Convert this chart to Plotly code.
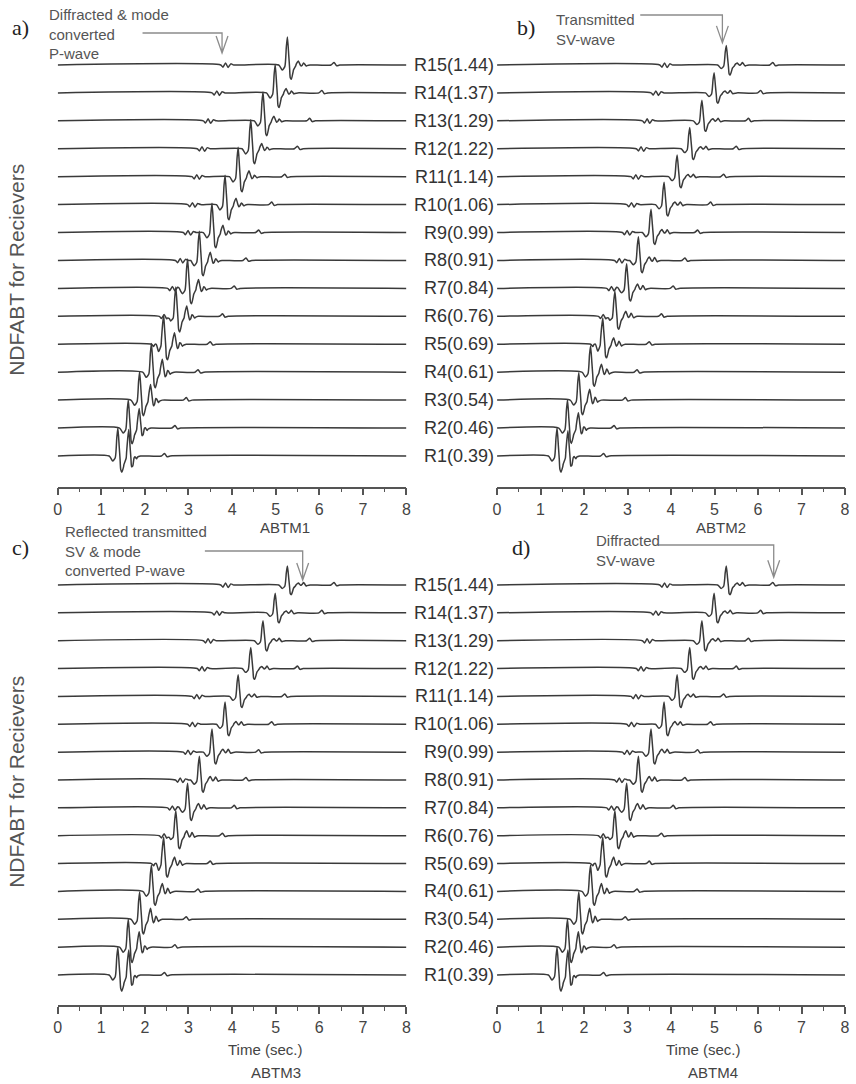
import numpy as np
import plotly.graph_objects as go

# ---------------- data ----------------
receivers = ["R1(0.39)", "R2(0.46)", "R3(0.54)", "R4(0.61)", "R5(0.69)", "R6(0.76)",
             "R7(0.84)", "R8(0.91)", "R9(0.99)", "R10(1.06)", "R11(1.14)", "R12(1.22)",
             "R13(1.29)", "R14(1.37)", "R15(1.44)"]
levels = list(range(1, 16))

# arrival time of the main (direct) peak for every receiver, s
main_time = [1.38, 1.62, 1.88, 2.15, 2.43, 2.71, 2.98, 3.25, 3.54, 3.84, 4.14, 4.43, 4.71, 4.99, 5.27]
# start time of the small diffracted / mode-converted wiggle (None = not visible)
precursor_time = [None, None, None, None, 2.15, 2.33, 2.52, 2.70, 2.88, 2.98, 3.08, 3.20, 3.34, 3.54, 3.74]

# wavelet knots (time offset from main peak, amplitude in trace-spacing units)
main_dt = [-0.20, -0.12, -0.06, -0.025, 0.0, 0.03, 0.065, 0.09, 0.14, 0.20]
main_amp = [0.0, -0.18, -0.06, 0.65, 1.0, 0.35, -0.45, -0.50, -0.15, 0.0]
second_offset = 0.25
tail_dt = [0.30, 0.37, 0.43, 0.52]
tail_amp = [0.0, 0.22, -0.06, 0.0]
pre_dt = [0.0, 0.05, 0.11, 0.17, 0.23, 0.30]
pre_amp = [0.0, -0.08, 0.07, -0.09, 0.04, 0.0]
late_dt = [1.00, 1.07, 1.13, 1.20]
late_amp = [0.0, 0.09, -0.03, 0.0]

# per-panel scale factors per receiver
main_scale = {
    "a": [1.0, 1.0, 1.02, 1.03, 1.04, 1.05, 1.05, 1.05, 1.05, 1.05, 1.05, 1.04, 1.03, 1.02, 1.0],
    "b": [1.0, 1.0, 0.98, 0.95, 0.93, 0.9, 0.88, 0.85, 0.83, 0.8, 0.78, 0.76, 0.74, 0.72, 0.7],
    "c": [1.0, 1.0, 0.98, 0.95, 0.93, 0.9, 0.88, 0.85, 0.83, 0.8, 0.78, 0.76, 0.72, 0.7, 0.68],
    "d": [1.0, 1.0, 0.98, 0.95, 0.93, 0.9, 0.88, 0.85, 0.83, 0.8, 0.78, 0.76, 0.72, 0.7, 0.68],
}
second_scale = {
    "a": [0.95, 0.7, 0.55, 0.45, 0.4, 0.35, 0.3, 0.28, 0.25, 0.22, 0.2, 0.18, 0.16, 0.15, 0.14],
    "b": [0.9, 0.55, 0.4, 0.3, 0.25, 0.2, 0.18, 0.15, 0.13, 0.12, 0.1, 0.1, 0.1, 0.1, 0.1],
    "c": [0.9, 0.55, 0.4, 0.3, 0.25, 0.2, 0.18, 0.15, 0.13, 0.12, 0.1, 0.1, 0.1, 0.1, 0.1],
    "d": [0.9, 0.55, 0.4, 0.3, 0.25, 0.2, 0.18, 0.15, 0.13, 0.12, 0.1, 0.1, 0.1, 0.1, 0.1],
}
tail_scale = [0.9, 0.9, 1.0, 0.9, 0.8, 0.75, 0.7, 0.65, 0.6, 0.55, 0.5, 0.5, 0.5, 0.5, 0.5]

panels = ["a", "b", "c", "d"]
x_ticks = [0, 1, 2, 3, 4, 5, 6, 7, 8]

callout_text = ["Diffracted & mode<br>converted<br>P-wave", "Transmitted<br>SV-wave",
                "Reflected transmitted<br>SV & mode<br>converted P-wave", "Diffracted<br>SV-wave"]
callout_tip_time = [3.77, 5.18, 5.62, 6.36]
callout_tip_level = [15.43, 15.79, 15.18, 15.28]

# ---------------- layout geometry ----------------
W, H = 856, 1084
xdom = {"a": [54.3 / W, 406.7 / W], "b": [498.3 / W, 850 / W],
        "c": [54.3 / W, 406.7 / W], "d": [498.3 / W, 850 / W]}
ydom = {"a": [1 - 486.7 / H, 1 - 20 / H], "b": [1 - 486.7 / H, 1 - 20 / H],
        "c": [1 - 1005 / H, 1 - 540 / H], "d": [1 - 1005 / H, 1 - 540 / H]}
yrng = {"a": [-0.1, 16.61], "b": [-0.1, 16.61], "c": [-0.077, 16.615], "d": [-0.077, 16.615]}
axid = {"a": "", "b": "2", "c": "3", "d": "4"}
TRACE_COLOR = "#3a3a3a"
AX_COLOR = "#555555"
FONT = "Liberation Sans, Arial, sans-serif"


def to_paper(p, t, lev):
    x = xdom[p][0] + t / 8.0 * (xdom[p][1] - xdom[p][0])
    y = ydom[p][0] + (lev - yrng[p][0]) / (yrng[p][1] - yrng[p][0]) * (ydom[p][1] - ydom[p][0])
    return x, y


def build_trace(p, i):
    events = []
    m = main_time[i]
    events.append(([m + d for d in main_dt], [a * main_scale[p][i] for a in main_amp]))
    events.append(([m + second_offset + d for d in main_dt],
                   [a * main_scale[p][i] * second_scale[p][i] for a in main_amp]))
    events.append(([m + d for d in tail_dt], [a * tail_scale[i] for a in tail_amp]))
    events.append(([m + d for d in late_dt], late_amp))
    if precursor_time[i] is not None:
        events.append(([precursor_time[i] + d for d in pre_dt], pre_amp))
    knots = sorted(set([0.0, 8.0] + [t for ev in events for t in ev[0]]))
    vals = np.zeros(len(knots))
    for et, ea in events:
        vals += np.interp(knots, et, ea, left=0.0, right=0.0)
    return knots, levels[i] + vals


fig = go.Figure()
for p in panels:
    for i in range(len(levels)):
        t, y = build_trace(p, i)
        fig.add_trace(go.Scatter(x=t, y=y, mode="lines",
                                 line=dict(color=TRACE_COLOR, width=1.5, shape="spline", smoothing=0.6),
                                 xaxis="x" + axid[p], yaxis="y" + axid[p], hoverinfo="skip"))

layout = dict(width=W, height=H, margin=dict(l=0, r=0, t=0, b=0), showlegend=False,
              paper_bgcolor="white", plot_bgcolor="white", font=dict(family=FONT, color="#444"))
for p in panels:
    k = axid[p]
    layout["xaxis" + k] = dict(domain=xdom[p], anchor="y" + k, range=[0, 8], tickvals=x_ticks,
                               showline=True, linecolor=AX_COLOR, linewidth=1.5, ticks="outside",
                               ticklen=7, tickwidth=1.5, tickcolor=AX_COLOR, showgrid=False, zeroline=False,
                               tickfont=dict(size=16, color="#444"),
                               minor=dict(dtick=0.5, ticks="outside", ticklen=4, tickwidth=1.2,
                                          tickcolor=AX_COLOR, showgrid=False))
    layout["yaxis" + k] = dict(domain=ydom[p], anchor="x" + k, range=yrng[p], visible=False)
fig.update_layout(**layout)

ann = []
# receiver labels (shared between left and right panels)
for p in ["a", "c"]:
    for i, lab in enumerate(receivers):
        ann.append(dict(text=lab, xref="paper", x=497.5 / W, xanchor="right", yref="y" + axid[p],
                        y=levels[i], yanchor="middle", showarrow=False,
                        font=dict(size=18, color="#333")))
# axis bottom titles
bottom = [
    dict(text="ABTM1", x=284 / W, y=1 - 527 / H),
    dict(text="ABTM2", x=725 / W, y=1 - 527 / H),
    dict(text="Time (sec.)", x=264 / W, y=1 - 1049 / H),
    dict(text="Time (sec.)", x=706 / W, y=1 - 1049 / H),
    dict(text="ABTM3", x=275 / W, y=1 - 1072 / H),
    dict(text="ABTM4", x=717 / W, y=1 - 1072 / H),
]
for a in bottom:
    a.update(xref="paper", yref="paper", xanchor="center", yanchor="middle", showarrow=False,
             font=dict(size=15, color="#444"))
ann += bottom
# y titles
for yc in [270, 782]:
    ann.append(dict(text="NDFABT for Recievers", xref="paper", yref="paper", x=12 / W, y=1 - yc / H,
                    textangle=-90, showarrow=False, xanchor="center", yanchor="middle",
                    font=dict(size=21, color="#555")))
# panel letters
for lab, xl, yc in [("a)", 6, 27), ("b)", 516, 27), ("c)", 6, 547), ("d)", 511, 547)]:
    ann.append(dict(text=lab, xref="paper", yref="paper", x=xl / W, y=1 - yc / H, xanchor="left",
                    yanchor="middle", showarrow=False,
                    font=dict(size=22, color="#222", family="Liberation Serif, DejaVu Serif, serif")))
# callout texts
text_pos = [(43, 4), (556, 9), (60, 521), (596, 530)]
for txt, (xl, yt) in zip(callout_text, text_pos):
    ann.append(dict(text=txt, xref="paper", yref="paper", x=xl / W, y=1 - yt / H, xanchor="left",
                    yanchor="top", align="left", showarrow=False, font=dict(size=15, color="#555")))
fig.update_layout(annotations=ann)

# callout elbow arrows
elbow_y_px = [33, 15, 551, 545]
start_x_px = [140, 643, 203, 662]
shapes = []
for j, p in enumerate(panels):
    tx, ty = to_paper(p, callout_tip_time[j], callout_tip_level[j])
    ey = 1 - elbow_y_px[j] / H
    sx = start_x_px[j] / W
    dx, dy = 6 / W, 17 / H
    path = (f"M {sx},{ey} L {tx},{ey} L {tx},{ty} "
            f"M {tx - dx},{ty + dy} L {tx},{ty} L {tx + dx},{ty + dy}")
    shapes.append(dict(type="path", path=path, xref="paper", yref="paper",
                       line=dict(color="#8c8c8c", width=1.3)))
fig.update_layout(shapes=shapes)

fig.write_html("out.html")
